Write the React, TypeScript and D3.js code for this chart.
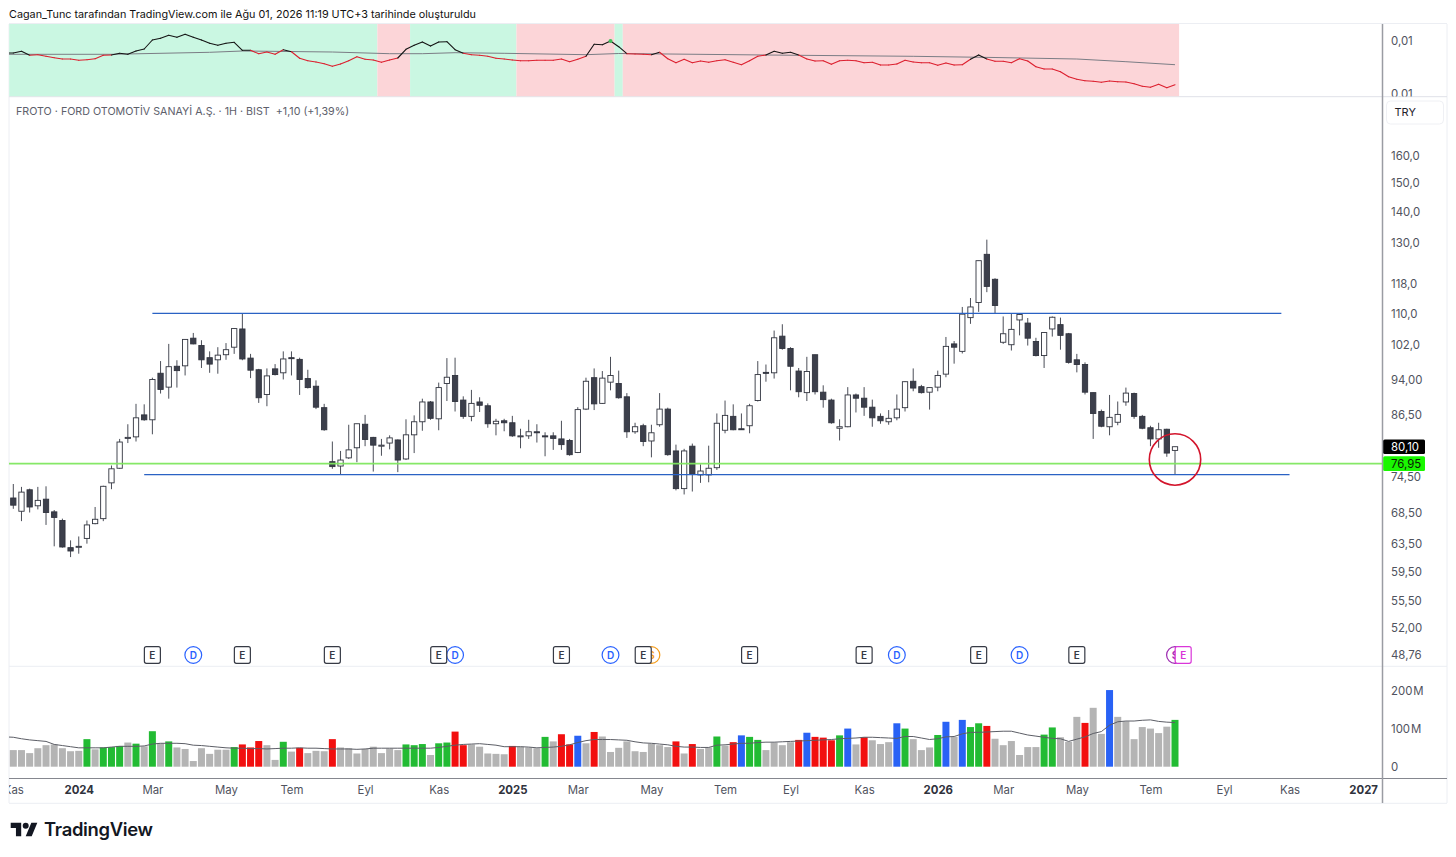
import * as d3 from "d3";
import { FC, useEffect, useRef } from "react";

const WIDTH = 1456;
const HEIGHT = 857;
const LEFT = 9;
const AXIS_X = 1382.5;
const EDGE_X = 1447;
const FONT = "Inter, 'Noto Sans', sans-serif";

// weekly FROTO candles
const opens = [
  70.9, 68.7, 72.3, 69.6, 70.7, 68.6, 67.2, 63.0, 63.1, 64.4,
  66.7, 67.5, 73.5, 76.1, 81.7, 82.0, 86.4, 85.4, 95.4, 92.3,
  97.0, 97.1, 103.7, 101.9, 99.0, 98.5, 99.7, 101.5, 106.0, 98.9,
  96.2, 90.7, 96.4, 95.5, 99.0, 98.6, 94.2, 92.5, 87.9, 77.3,
  76.5, 78.0, 79.9, 84.5, 81.9, 80.2, 80.8, 81.4, 77.8, 82.4,
  85.0, 89.1, 85.6, 93.1, 94.9, 89.5, 86.1, 89.1, 88.3, 84.6,
  85.2, 84.8, 82.1, 82.2, 83.0, 82.2, 82.2, 81.6, 81.3, 79.0,
  87.6, 94.4, 88.8, 93.4, 93.1, 90.2, 83.0, 84.2, 81.2, 84.4,
  87.6, 79.3, 72.5, 80.2, 74.9, 74.9, 76.2, 83.3, 86.1, 83.6,
  84.2, 89.4, 95.6, 95.5, 104.2, 101.2, 95.9, 91.1, 99.7, 91.2,
  89.5, 83.7, 84.0, 90.6, 89.9, 88.0, 86.1, 85.0, 85.8, 87.9,
  93.6, 92.4, 91.2, 92.3, 95.2, 102.3, 100.5, 108.9, 112.9, 126.6,
  119.3, 102.7, 102.1, 108.3, 107.5, 102.9, 99.5, 106.0, 107.1, 104.8,
  98.5, 97.4, 91.1, 87.1, 84.0, 84.9, 89.1, 90.9, 86.1, 83.8,
  81.6, 83.5, 79.4,
];
const highs = [
  73.3, 72.8, 72.5, 72.8, 72.9, 68.9, 67.5, 64.1, 64.7, 67.2,
  69.4, 73.0, 76.6, 81.6, 84.5, 88.7, 88.6, 94.4, 98.2, 102.3,
  98.4, 103.4, 105.0, 103.2, 100.5, 101.5, 102.5, 106.2, 110.0, 99.9,
  96.4, 96.5, 97.5, 100.5, 100.5, 99.0, 96.2, 93.8, 88.7, 81.1,
  79.3, 84.4, 84.6, 86.4, 82.0, 81.6, 82.3, 81.5, 85.5, 86.3,
  89.8, 89.3, 93.3, 98.9, 99.0, 90.3, 91.7, 90.1, 88.8, 85.6,
  85.6, 86.2, 83.6, 85.4, 84.5, 82.9, 82.9, 85.2, 81.6, 88.0,
  94.4, 96.5, 95.9, 99.2, 96.0, 91.0, 84.8, 84.6, 84.4, 91.0,
  87.9, 80.5, 79.7, 80.7, 76.8, 80.3, 86.7, 89.4, 88.6, 86.7,
  88.7, 98.2, 97.4, 105.6, 107.2, 101.5, 96.6, 99.2, 99.7, 92.7,
  89.8, 85.5, 92.3, 90.9, 92.3, 89.6, 86.7, 87.4, 90.7, 93.6,
  96.5, 92.8, 92.2, 96.0, 104.0, 103.0, 111.7, 114.1, 124.7, 131.1,
  119.6, 109.2, 109.9, 109.9, 108.8, 103.8, 105.2, 109.2, 108.9, 105.0,
  99.9, 97.9, 91.1, 87.5, 90.6, 89.2, 92.2, 91.1, 86.4, 84.2,
  84.8, 83.6, 80.1,
];
const lows = [
  69.1, 67.1, 68.5, 69.0, 66.5, 63.2, 63.0, 61.6, 62.1, 63.6,
  66.6, 67.1, 72.4, 76.0, 80.8, 81.1, 85.2, 82.5, 90.9, 89.8,
  92.2, 94.9, 102.2, 96.6, 95.5, 95.3, 98.5, 99.9, 98.4, 94.3,
  88.9, 88.2, 94.9, 94.0, 94.9, 90.6, 92.0, 87.6, 83.2, 76.0,
  75.0, 77.8, 77.2, 80.2, 75.5, 78.4, 79.6, 75.4, 77.6, 78.9,
  83.2, 85.4, 83.3, 89.3, 87.1, 85.6, 85.1, 87.0, 83.8, 82.3,
  83.1, 82.0, 79.8, 81.6, 80.9, 78.3, 79.5, 79.5, 78.4, 78.9,
  87.4, 87.4, 88.7, 91.6, 89.8, 81.8, 82.6, 80.2, 78.1, 84.0,
  78.4, 72.2, 71.5, 72.0, 73.5, 73.6, 75.8, 82.7, 83.3, 83.4,
  82.7, 89.2, 93.5, 94.2, 100.9, 91.6, 90.1, 89.3, 90.7, 87.9,
  84.6, 81.3, 83.9, 86.9, 86.2, 84.0, 84.6, 84.4, 85.3, 87.1,
  91.4, 90.9, 87.5, 91.4, 94.5, 97.6, 100.0, 107.3, 110.4, 115.7,
  109.9, 102.3, 100.7, 104.4, 101.9, 99.3, 96.6, 104.1, 100.9, 97.6,
  95.6, 90.7, 81.6, 83.9, 82.3, 84.3, 88.3, 85.6, 83.5, 80.2,
  79.9, 78.2, 75.0,
];
const closes = [
  69.7, 71.9, 69.4, 70.5, 68.5, 67.7, 63.1, 62.5, 63.2, 66.5,
  67.4, 72.9, 76.0, 81.0, 81.9, 85.8, 85.4, 94.0, 91.8, 96.9,
  96.0, 103.4, 102.3, 98.5, 97.5, 99.6, 100.9, 106.1, 98.7, 96.1,
  90.0, 94.8, 95.1, 98.7, 98.8, 94.0, 92.2, 88.0, 83.4, 76.4,
  77.6, 79.5, 84.6, 81.5, 80.4, 80.4, 81.8, 77.6, 82.4, 85.0,
  89.1, 85.7, 92.2, 94.5, 89.2, 86.1, 88.8, 88.4, 84.6, 85.1,
  84.8, 82.2, 82.2, 83.0, 82.8, 82.0, 81.7, 80.5, 78.6, 87.5,
  93.6, 88.7, 94.3, 94.9, 90.0, 83.0, 84.0, 81.1, 82.8, 87.6,
  78.6, 72.5, 79.3, 75.0, 75.6, 76.1, 84.7, 86.3, 83.4, 83.4,
  88.3, 95.1, 95.4, 103.8, 101.2, 97.0, 91.3, 95.8, 91.3, 89.6,
  84.8, 84.0, 90.6, 89.9, 88.0, 85.8, 85.2, 85.7, 87.6, 93.5,
  92.1, 91.1, 92.2, 94.9, 101.7, 101.5, 109.8, 111.7, 124.7, 117.3,
  112.1, 104.8, 105.9, 109.7, 103.7, 99.5, 105.1, 109.0, 104.4, 97.9,
  97.4, 91.2, 86.7, 84.1, 85.9, 86.5, 91.0, 86.1, 83.7, 81.6,
  83.4, 78.9, 80.1,
];

// volume in millions
const volumes = [
  44, 44, 36, 49, 57, 59, 49, 41, 42, 73,
  46, 51, 52, 55, 64, 61, 54, 94, 62, 67,
  51, 47, 15, 49, 34, 45, 45, 52, 59, 51,
  68, 57, 18, 66, 40, 50, 36, 42, 41, 73,
  51, 49, 35, 47, 53, 36, 48, 44, 59, 57,
  60, 31, 62, 64, 93, 57, 59, 53, 35, 34,
  33, 55, 53, 51, 49, 79, 67, 86, 59, 82,
  62, 92, 80, 39, 50, 67, 41, 39, 61, 57,
  52, 67, 35, 60, 47, 51, 80, 56, 65, 83,
  79, 71, 44, 64, 57, 65, 71, 90, 79, 77,
  70, 83, 101, 59, 78, 70, 60, 65, 115, 101,
  73, 44, 51, 84, 119, 79, 124, 105, 115, 108,
  74, 57, 68, 31, 52, 52, 85, 104, 78, 66,
  132, 116, 156, 87, 203, 132, 120, 73, 105, 101,
  89, 106, 124,
];
const greenVolumeBars = [9, 11, 12, 13, 15, 17, 19, 27, 33, 48, 49, 50, 52, 53, 65, 86, 90, 91, 101, 109, 113, 117, 118, 126, 127, 142];
const redVolumeBars = [28, 29, 30, 35, 39, 54, 55, 61, 67, 68, 71, 81, 83, 88, 96, 98, 99, 100, 104, 119, 131];
const blueVolumeBars = [69, 89, 97, 102, 108, 114, 116, 134];

// volume average, first value is the bar just left of the visible chart
const volumeAverage = [
  79, 78, 74, 71, 69, 67, 59, 56, 53, 50,
  50, 50, 50, 52, 54, 54, 54, 55, 60, 62,
  62, 62, 61, 57, 56, 54, 52, 50, 49, 49,
  48, 48, 47, 48, 49, 49, 50, 49, 49, 48,
  47, 47, 47, 46, 47, 49, 49, 49, 49, 49,
  49, 49, 49, 51, 54, 57, 59, 60, 61, 59,
  57, 53, 53, 53, 52, 50, 51, 52, 54, 58,
  64, 69, 72, 72, 72, 71, 70, 66, 63, 62,
  60, 58, 54, 52, 52, 51, 51, 57, 58, 60,
  62, 62, 64, 65, 65, 66, 67, 68, 69, 70,
  71, 72, 74, 75, 76, 78, 78, 77, 76, 75,
  80, 80, 76, 72, 74, 79, 80, 87, 91, 91,
  92, 93, 94, 94, 89, 84, 81, 78, 75, 74,
  67, 73, 79, 88, 93, 110, 119, 121, 121, 123,
  124, 120, 118, 117,
];

// top strip, in units of 0.0001. first value is the bar left of the chart
const stripValues = [
  116, 116, 117.7, 113.7, 114.3, 112.7, 111.3, 110, 110, 108.7,
  109.3, 110.3, 113.7, 114, 115.7, 114.7, 118, 120, 129, 130.7,
  133.7, 131.7, 134.7, 131.7, 129, 125.7, 123.7, 125.7, 126.7, 118.7,
  118.7, 115.3, 117, 114.7, 119.3, 117.3, 110.7, 108.3, 107, 105.3,
  102.7, 105, 108.3, 112.3, 109.7, 109, 106.7, 109, 111, 119.7,
  123.7, 127, 123, 127, 127.3, 119.3, 115.7, 114.3, 113.7, 112.7,
  110.7, 110, 109, 108.3, 108.3, 108.7, 108.7, 108.7, 110, 107.3,
  109.7, 112.7, 124.7, 124.3, 128, 122.3, 115.3, 115, 114.7, 114.3,
  116.7, 110.3, 106.3, 109.7, 106.3, 108, 106.7, 108.3, 109.3, 106.7,
  104.3, 108.3, 112.7, 114, 117.7, 115.7, 116.7, 114, 110, 108,
  108.3, 104.7, 108.3, 108.7, 108.3, 106.3, 106.7, 104, 104, 105,
  108.7, 107, 106.3, 106.3, 103.7, 106, 104, 104.3, 109.7, 114,
  110, 107.7, 107.7, 106.3, 110.3, 108, 102.3, 100, 100, 97.3,
  92.3, 89.7, 88.3, 87.7, 86.7, 88, 87.3, 87, 85.3, 82.7,
  81.7, 84.7, 81.3, 84.3,
];
const stripAverageBars = [-1, 12, 24, 28, 39, 46, 50, 54, 60, 70, 74, 92, 110, 120, 130, 136, 142];
const stripAverageValues = [114.7, 114.7, 116.7, 118, 117, 115.3, 115.3, 116.3, 115.7, 114.3, 115.5, 114, 112.7, 111.5, 110, 107.3, 104.3];
const stripZoneStarts = [-0.5, 44.5, 48.5, 61.5, 73.5, 74.5];
const stripZoneEnds = [44.5, 48.5, 61.5, 73.5, 74.5, 142.5];
const stripZoneBullish = [true, false, true, false, true, false];
const stripSignalBar = 73;

const priceTicks = [160, 150, 140, 130, 118, 110, 102, 94, 86.5, 74.5, 68.5, 63.5, 59.5, 55.5, 52, 48.76];
const volumeTicks = [0, 100, 200];
const stripTicks = [128, 75];
const timeTickBars = [0, 8, 17, 26, 34, 43, 52, 61, 69, 78, 87, 95, 104, 113, 121, 130, 139, 148, 156, 165];
const timeTickLabels = ["Kas", "2024", "Mar", "May", "Tem", "Eyl", "Kas", "2025", "Mar", "May", "Tem", "Eyl", "Kas", "2026", "Mar", "May", "Tem", "Eyl", "Kas", "2027"];

const earningsBars = [17, 28, 39, 52, 67, 77, 90, 104, 118, 130];
const dividendBars = [22, 54, 73, 108, 123];

const RESISTANCE = { price: 110, from: 17, to: 155 };
const SUPPORT = { price: 74.95, from: 16, to: 156 };
const ALERT_PRICE = 76.95;
const LAST_PRICE = 80.1;

const comma = (v: number, digits: number) => d3.format(`.${digits}f`)(v).replace(".", ",");

const App: FC = () => {
  const svgRef = useRef<SVGSVGElement | null>(null);

  useEffect(() => {
    if (!svgRef.current) return;
    const svg = d3.select(svgRef.current);
    svg.selectAll("*").remove();

    const xScale = d3.scaleLinear([0, 142], [13.3, 1175]);
    const priceScale = d3.scaleLog([52, 110], [628.3, 313.4]);
    const volumeScale = d3.scaleLinear([0, 200], [766.7, 691.2]);
    const stripScale = d3.scaleLinear([75, 128], [94, 41]);
    const stripAverage = d3.scaleLinear(stripAverageBars, stripAverageValues);

    const defs = svg.append("defs");
    defs
      .append("clipPath")
      .attr("id", "plot")
      .append("rect")
      .attr("x", LEFT)
      .attr("y", 0)
      .attr("width", AXIS_X - LEFT)
      .attr("height", HEIGHT);
    defs
      .append("clipPath")
      .attr("id", "strip-axis")
      .append("rect")
      .attr("x", AXIS_X)
      .attr("y", 24)
      .attr("width", 70)
      .attr("height", 72.5);

    svg.append("rect").attr("width", WIDTH).attr("height", HEIGHT).attr("fill", "#fff");

    // pane frame
    const frame = svg.append("g").attr("stroke", "#eceef3").attr("fill", "none");
    frame.append("line").attr("x1", LEFT).attr("x2", LEFT).attr("y1", 24).attr("y2", 803);
    frame.append("line").attr("x1", EDGE_X).attr("x2", EDGE_X).attr("y1", 24).attr("y2", 803);
    frame.append("line").attr("x1", LEFT).attr("x2", EDGE_X).attr("y1", 23.5).attr("y2", 23.5);
    frame.append("line").attr("x1", LEFT).attr("x2", EDGE_X).attr("y1", 96.7).attr("y2", 96.7).attr("stroke", "#dfe1e8");
    frame.append("line").attr("x1", LEFT).attr("x2", EDGE_X).attr("y1", 666.3).attr("y2", 666.3);
    frame.append("line").attr("x1", LEFT).attr("x2", EDGE_X).attr("y1", 803.3).attr("y2", 803.3);

    // top strip
    const strip = svg.append("g").attr("clip-path", "url(#plot)");
    strip
      .selectAll("rect")
      .data(stripZoneStarts)
      .join("rect")
      .attr("x", (d) => xScale(d))
      .attr("width", (d, i) => xScale(stripZoneEnds[i]) - xScale(d))
      .attr("y", 24)
      .attr("height", 72.2)
      .attr("fill", (d, i) => (stripZoneBullish[i] ? "#caf7e2" : "#fcd5d8"));

    const averageLine = d3
      .line<number>()
      .x((d, i) => xScale(stripAverageBars[i]))
      .y((d) => stripScale(d));
    strip
      .append("path")
      .attr("d", averageLine(stripAverageValues))
      .attr("fill", "none")
      .attr("stroke", "#7b7d85")
      .attr("stroke-width", 1);

    strip
      .selectAll("line.ratio")
      .data(d3.pairs(stripValues))
      .join("line")
      .attr("class", "ratio")
      .attr("x1", (d, i) => xScale(i - 1))
      .attr("x2", (d, i) => xScale(i))
      .attr("y1", (d) => stripScale(d[0]))
      .attr("y2", (d) => stripScale(d[1]))
      .attr("stroke-width", 1.1)
      .attr("stroke-linecap", "round")
      .attr("stroke", (d, i) =>
        (d[0] + d[1]) / 2 > stripAverage(i - 0.5) ? "#141414" : "#dc1f2e"
      );

    strip
      .append("circle")
      .attr("cx", xScale(stripSignalBar))
      .attr("cy", stripScale(stripValues[stripSignalBar + 1]))
      .attr("r", 2)
      .attr("fill", "#3fbf5a");

    // candles
    const bars = d3.range(opens.length);
    const candles = svg.append("g").attr("clip-path", "url(#plot)");
    candles
      .selectAll("line")
      .data(bars)
      .join("line")
      .attr("x1", (i) => xScale(i))
      .attr("x2", (i) => xScale(i))
      .attr("y1", (i) => priceScale(highs[i]))
      .attr("y2", (i) => priceScale(lows[i]))
      .attr("stroke", "#4b4e58")
      .attr("stroke-width", 1);
    candles
      .selectAll("rect")
      .data(bars)
      .join("rect")
      .attr("x", (i) => xScale(i) - 2.65)
      .attr("width", 5.3)
      .attr("y", (i) => priceScale(Math.max(opens[i], closes[i])))
      .attr("height", (i) =>
        Math.max(1, priceScale(Math.min(opens[i], closes[i])) - priceScale(Math.max(opens[i], closes[i])))
      )
      .attr("fill", (i) => (closes[i] < opens[i] ? "#3c3f4b" : "#ffffff"))
      .attr("stroke", "#30333e")
      .attr("stroke-width", 0.9);

    // drawn levels
    const levels = svg.append("g").attr("clip-path", "url(#plot)");
    [RESISTANCE, SUPPORT].forEach((level) => {
      levels
        .append("line")
        .attr("x1", xScale(level.from))
        .attr("x2", xScale(level.to))
        .attr("y1", priceScale(level.price))
        .attr("y2", priceScale(level.price))
        .attr("stroke", "#2a62c4")
        .attr("stroke-width", 1.3);
    });
    levels
      .append("line")
      .attr("x1", LEFT)
      .attr("x2", AXIS_X)
      .attr("y1", priceScale(ALERT_PRICE))
      .attr("y2", priceScale(ALERT_PRICE))
      .attr("stroke", "#80e75f")
      .attr("stroke-opacity", 0.95)
      .attr("stroke-width", 1.7);
    levels
      .append("circle")
      .attr("cx", xScale(142))
      .attr("cy", priceScale(77.7))
      .attr("r", 25.7)
      .attr("fill", "none")
      .attr("stroke", "#d3142b")
      .attr("stroke-width", 1.6);

    // events row
    const events = svg.append("g").attr("font-family", FONT).attr("font-weight", 600).attr("font-size", 10);
    const eventY = 655;
    const addCircle = (bar: number, color: string, label: string) => {
      const g = events.append("g").attr("transform", `translate(${xScale(bar)},${eventY})`);
      g.append("circle").attr("r", 8.4).attr("fill", "#fff").attr("stroke", color).attr("stroke-width", 1.2);
      g.append("text").text(label).attr("text-anchor", "middle").attr("dy", "0.36em").attr("fill", color);
    };
    const addBox = (bar: number, color: string) => {
      const g = events.append("g").attr("transform", `translate(${xScale(bar)},${eventY})`);
      g.append("rect")
        .attr("x", -8)
        .attr("y", -8.3)
        .attr("width", 16)
        .attr("height", 16.6)
        .attr("rx", 2)
        .attr("fill", "#fff")
        .attr("stroke", color)
        .attr("stroke-width", 1.2);
      g.append("text").text("E").attr("text-anchor", "middle").attr("dy", "0.36em").attr("fill", color);
    };
    addCircle(78, "#f59c1a", "$");
    addCircle(142, "#9c27b0", "$");
    dividendBars.forEach((bar) => addCircle(bar, "#2962ff", "D"));
    earningsBars.forEach((bar) => addBox(bar, "#363a45"));
    addBox(143, "#d936d9");

    // volume
    const volumeColor = (i: number) => {
      if (greenVolumeBars.includes(i)) return "#22bb33";
      if (redVolumeBars.includes(i)) return "#f20f0f";
      if (blueVolumeBars.includes(i)) return "#2962f5";
      return "#b4b4b4";
    };
    const volume = svg.append("g").attr("clip-path", "url(#plot)");
    volume
      .selectAll("rect")
      .data(volumes)
      .join("rect")
      .attr("x", (d, i) => xScale(i) - 3.5)
      .attr("width", 7)
      .attr("y", (d) => volumeScale(d))
      .attr("height", (d) => volumeScale(0) - volumeScale(d))
      .attr("fill", (d, i) => volumeColor(i));
    const volumeLine = d3
      .line<number>()
      .x((d, i) => xScale(i - 1))
      .y((d) => volumeScale(d));
    volume
      .append("path")
      .attr("d", volumeLine(volumeAverage))
      .attr("fill", "none")
      .attr("stroke", "#5c5e66")
      .attr("stroke-width", 1);

    // axes
    const styleAxis = (g: d3.Selection<SVGGElement, unknown, null, undefined>) => {
      g.select(".domain").remove();
      g.selectAll("text")
        .attr("font-family", FONT)
        .attr("font-size", 11.4)
        .attr("fill", "#50535e");
    };

    svg
      .append("g")
      .attr("transform", "translate(1391,0)")
      .call(
        d3
          .axisRight(priceScale)
          .tickValues(priceTicks)
          .tickFormat((v) => comma(+v, +v >= 100 ? 1 : 2))
          .tickSize(0)
          .tickPadding(0)
      )
      .call(styleAxis);

    svg
      .append("g")
      .attr("transform", "translate(1391,0)")
      .call(
        d3
          .axisRight(volumeScale)
          .tickValues(volumeTicks)
          .tickFormat((v) => (+v === 0 ? "0" : `${v}\u200aM`))
          .tickSize(0)
          .tickPadding(0)
      )
      .call(styleAxis);

    svg
      .append("g")
      .attr("clip-path", "url(#strip-axis)")
      .append("g")
      .attr("transform", "translate(1391,0)")
      .call(
        d3
          .axisRight(stripScale)
          .tickValues(stripTicks)
          .tickFormat((v) => comma(+v / 10000, 2))
          .tickSize(0)
          .tickPadding(0)
      )
      .call(styleAxis);

    const timeAxis = svg
      .append("g")
      .attr("clip-path", "url(#plot)")
      .append("g")
      .attr("transform", "translate(0,786.2)")
      .call(
        d3
          .axisBottom(xScale)
          .tickValues(timeTickBars)
          .tickFormat((d, i) => timeTickLabels[i])
          .tickSize(0)
          .tickPadding(0)
      )
      .call(styleAxis);
    timeAxis
      .selectAll<SVGTextElement, number>("text")
      .attr("font-weight", (d, i) => (/^\d+$/.test(timeTickLabels[i]) ? 700 : 400))
      .attr("fill", (d, i) => (/^\d+$/.test(timeTickLabels[i]) ? "#2f323c" : "#50535e"));

    // axis rules go over the panes
    svg.append("line").attr("x1", LEFT).attr("x2", EDGE_X).attr("y1", 778.5).attr("y2", 778.5).attr("stroke", "#85878f").attr("stroke-width", 1.2);
    svg.append("line").attr("x1", AXIS_X).attr("x2", AXIS_X).attr("y1", 24).attr("y2", 803).attr("stroke", "#9a9ca3").attr("stroke-width", 1.5);

    // price tags
    const tag = (price: number, fill: string, color: string, label: string) => {
      const y = priceScale(price);
      svg.append("rect").attr("x", AXIS_X + 0.7).attr("y", y - 7.3).attr("width", 41.8).attr("height", 14.6).attr("rx", 1.5).attr("fill", fill);
      svg
        .append("text")
        .text(label)
        .attr("x", 1391)
        .attr("y", y)
        .attr("dy", "0.36em")
        .attr("font-family", FONT)
        .attr("font-size", 11.4)
        .attr("fill", color);
    };
    tag(LAST_PRICE, "#000000", "#ffffff", comma(LAST_PRICE, 2));
    tag(ALERT_PRICE, "#19f700", "#0b2206", comma(ALERT_PRICE, 2));

    // currency button
    svg.append("rect").attr("x", 1386.5).attr("y", 101).attr("width", 57).attr("height", 23).attr("rx", 4).attr("fill", "#fff").attr("stroke", "#eff0f4");
    svg.append("text").text("TRY").attr("x", 1394.5).attr("y", 112).attr("dy", "0.36em").attr("font-family", FONT).attr("font-size", 11).attr("fill", "#1f222b");

    // header texts
    svg
      .append("text")
      .text("Cagan_Tunc tarafından TradingView.com ile Ağu 01, 2026 11:19 UTC+3 tarihinde oluşturuldu")
      .attr("x", 9)
      .attr("y", 18)
      .attr("font-family", FONT)
      .attr("font-size", 10.8)
      .attr("fill", "#111");
    svg
      .append("text")
      .text("FROTO · FORD OTOMOTİV SANAYİ A.Ş. · 1H · BIST  +1,10 (+1,39%)")
      .attr("x", 16)
      .attr("y", 115)
      .style("white-space", "pre")
      .attr("font-family", FONT)
      .attr("font-size", 10.7)
      .attr("fill", "#5d606b");

    // brand
    const brand = svg.append("g").attr("transform", "translate(10.7,819.7) scale(0.75)").attr("fill", "#131722");
    brand.append("path").attr("d", "M14 22H7V11H0V4h14v18zM28 22h-8l7.5-18h8L28 22z");
    brand.append("circle").attr("cx", 20).attr("cy", 8).attr("r", 4);
    svg
      .append("text")
      .text("TradingView")
      .attr("x", 44)
      .attr("y", 836)
      .attr("font-family", FONT)
      .attr("font-size", 18.4)
      .attr("font-weight", 600)
      .attr("letter-spacing", -0.3)
      .attr("fill", "#131722");
  }, []);

  return (
    <svg
      ref={svgRef}
      width={WIDTH}
      height={HEIGHT}
      style={{ position: "absolute", left: 0, top: 0, display: "block" }}
    />
  );
};

export default App;
